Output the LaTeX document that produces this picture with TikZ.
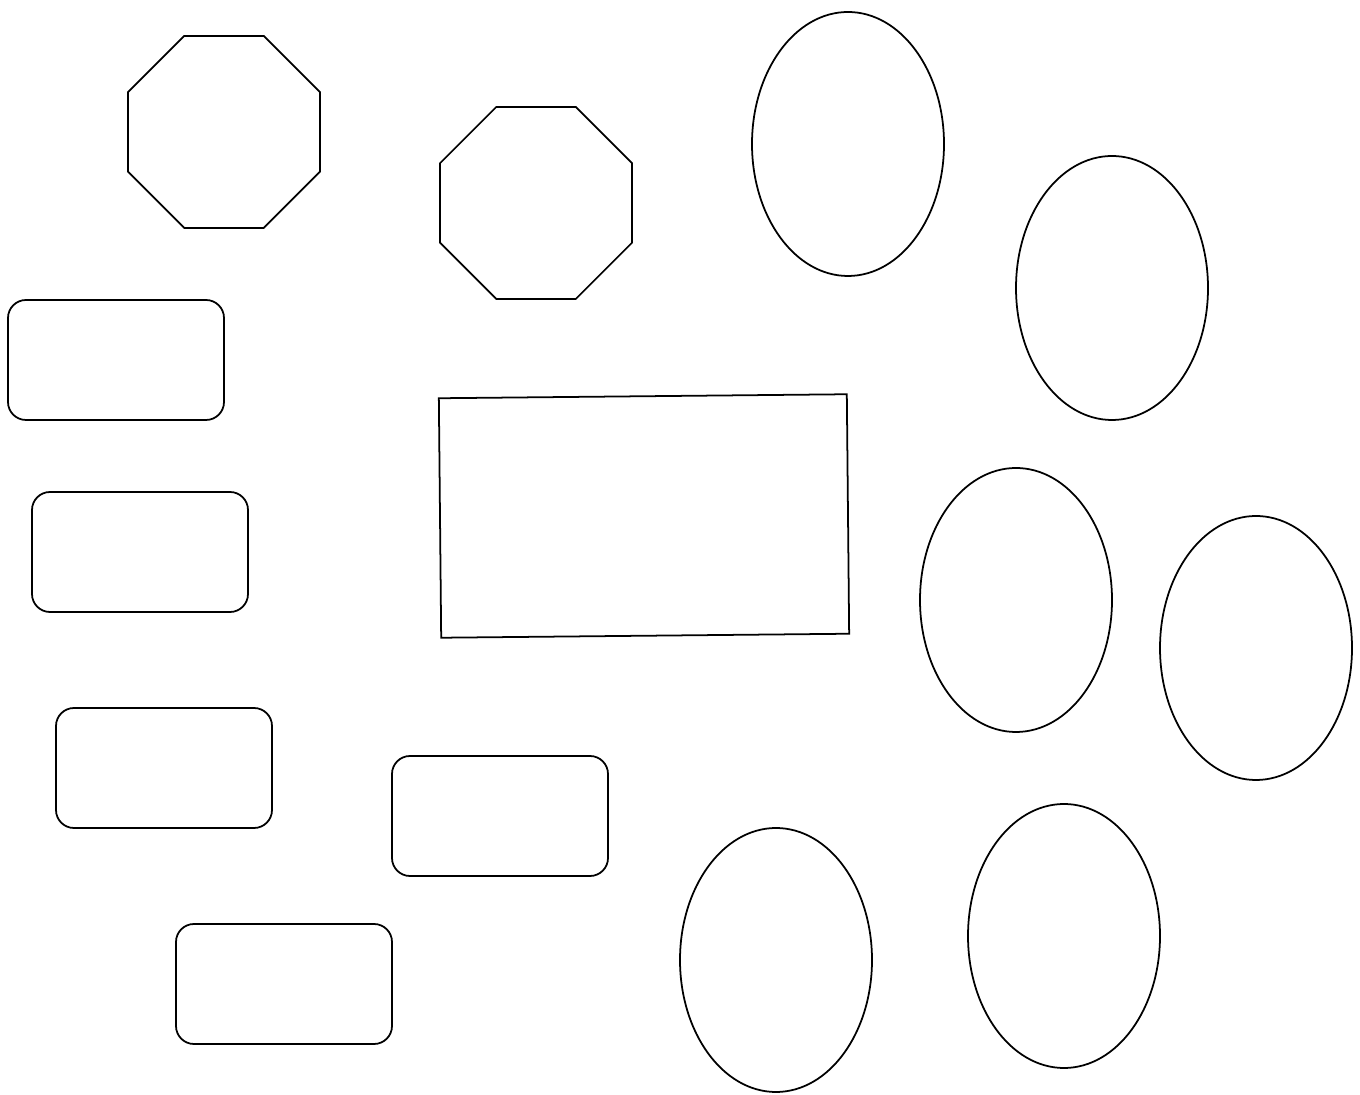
\documentclass[tikz,border=0pt]{standalone}
\usetikzlibrary{shapes.geometric}
\begin{document}
\begin{tikzpicture}[x=0.2mm,y=0.2mm,
  octa/.style={draw,regular polygon,regular polygon sides=8,minimum size=41.56mm,inner sep=0pt,line width=1pt},
  oval/.style={draw,ellipse,minimum width=38.4mm,minimum height=52.8mm,inner sep=0pt,line width=1pt},
  rbox/.style={draw,rectangle,rounded corners=3.6mm,minimum width=43.2mm,minimum height=24mm,inner sep=0pt,line width=1pt}]
\useasboundingbox (-1,0) rectangle (1359,1094);
% octagons
\node[octa] (oct1) at (223,962) {};
\node[octa] (oct2) at (535,891) {};
% ellipses
\node[oval] (ell1) at (847,950) {};
\node[oval] (ell2) at (1111,806) {};
\node[oval] (ell3) at (1015,494) {};
\node[oval] (ell4) at (1255,446) {};
\node[oval] (ell5) at (775,134) {};
\node[oval] (ell6) at (1063,158) {};
% rounded boxes
\node[rbox] (box1) at (115,734) {};
\node[rbox] (box2) at (139,542) {};
\node[rbox] (box3) at (163,326) {};
\node[rbox] (box4) at (499,278) {};
\node[rbox] (box5) at (283,110) {};
% tilted frame
\node[draw,rectangle,minimum width=81.6mm,minimum height=47.9mm,inner sep=0pt,line width=1pt,rotate=0.56] (frame) at (643,578) {};
\end{tikzpicture}
\end{document}
